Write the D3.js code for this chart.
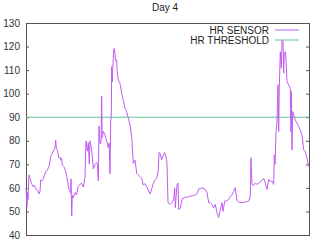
<!DOCTYPE html>
<meta charset="utf-8">
<style>
body { margin: 0; background: #fff; }
text { font-family: "Liberation Sans", Arial, sans-serif; }
</style>
<body>
<div id="chart"></div>
<script src="https://d3js.org/d3.v7.min.js"></script>
<script>
// sample position along the day and heart rate
var sampleIdx = [
  0, 0.5, 1, 1.5, 2, 3, 4, 5.5, 7, 8.5,
  10, 11.5, 13, 14, 14.7, 16, 17, 18, 19.7, 21.3,
  23, 24.7, 26.3, 28, 29, 29.7, 30.3, 31.3, 33, 34,
  34.7, 35.5, 36.3, 38, 39.7, 41.3, 43, 44, 44.7, 45,
  45.7, 46.3, 47.3, 49, 50.5, 52.3, 54, 55.5, 57.3, 59,
  60, 61.3, 62.3, 63.3, 64, 65.7, 67.3, 69, 70.7, 71.5,
  72.3, 73, 74, 75, 75.7, 76.2, 77.3, 79, 80.7, 82.3,
  83.2, 84, 84.7, 85.3, 85.7, 86.3, 86.7, 87.7, 88.3, 89,
  89.5, 90.7, 91, 92.3, 94, 95.7, 97.3, 99, 100.7, 102.3,
  104, 105.7, 107.3, 109, 110.7, 112.3, 114, 115.7, 117.3, 119,
  120.7, 122.3, 124, 125.7, 127.3, 129, 130.7, 132.3, 133, 134,
  135.7, 137.3, 138.7, 140.7, 141, 142, 144.3, 146, 147.7, 148.7,
  149.3, 151, 152, 152.7, 154.3, 156, 159.3, 162.7, 166, 169.3,
  171, 172.7, 176, 179.3, 181, 182.7, 184.3, 186, 187.7, 189.3,
  191, 192.7, 194.3, 196, 197, 198.7, 200.7, 202.7, 204.5, 206,
  207.7, 209.3, 211, 212.7, 216, 219.3, 222.7, 224.3, 225, 226,
  227.7, 229.3, 231, 232.7, 234.3, 236, 237.7, 239.3, 241, 242.7,
  244.3, 246, 247.7, 248.3, 249, 250, 251, 252, 252.7, 253.3,
  254.3, 255.3, 256, 257, 257.7, 258.3, 259.3, 260, 261, 262.7,
  264.3, 265, 265.3, 266, 266.7, 267.7, 269.3, 271, 272.7, 274.3,
  276, 277.7, 279.3, 281, 282.7];
var heartRate = [
  60, 56, 52, 58, 55, 65.5, 64, 62, 60.5, 61,
  59.5, 59, 57.5, 58.5, 63.4, 63, 63.5, 64.8, 66.9, 67.6,
  69, 73.3, 74.7, 76.1, 77, 80.3, 77, 76, 72.7, 73,
  71.8, 72.5, 69.7, 69, 67, 63.4, 59.3, 58.7, 57.7, 63.8,
  48, 57, 55.8, 58, 57, 60.8, 61.5, 62, 60.4, 64.4,
  79.9, 75.6, 79.2, 70.1, 80, 76, 68, 70, 70.7, 69.5,
  63, 86.3, 78.6, 79, 99, 81.3, 84, 82.5, 80, 77,
  79, 66, 88.4, 90.2, 111.5, 105, 110, 118.5, 119.2, 117,
  114, 114.3, 110, 105.8, 104.4, 100.2, 97.2, 93.8, 92.4, 89.5,
  86.7, 81.7, 70.4, 71.8, 66.2, 65.5, 64.8, 64, 61.2, 61.8,
  60.5, 59.1, 57.4, 59.5, 62, 63.4, 64.1, 67.6, 75, 74.7,
  71.8, 74, 75, 71.8, 70, 53.7, 53, 53.7, 55.2, 60,
  51.6, 61.5, 62, 50.9, 51.3, 55.2, 56, 56.2, 56.6, 57,
  57.5, 59.5, 60, 59.4, 58, 53.7, 53.7, 53, 51.6, 53,
  49.5, 47.4, 50.9, 53.7, 50, 54.4, 54.6, 55, 56.5, 57,
  58.5, 60, 54.6, 54, 53.7, 54, 54.4, 56.5, 72.8, 61.5,
  61, 62, 61.5, 62, 62.5, 63.5, 64, 62, 59.4, 63.6,
  62.6, 62.9, 61.5, 74, 70, 83.9, 88.1, 103.8, 83.9, 103,
  117.8, 110.8, 122.8, 122.5, 108.7, 117.1, 117.8, 115, 105.1, 103.7,
  102.3, 83.9, 101, 76.1, 92.4, 91, 88.8, 87.5, 86, 84.5,
  82.5, 76.1, 75.5, 72.6, 69];
var threshold = 90;
var yTicks = [40, 50, 60, 70, 80, 90, 100, 110, 120, 130];
var seriesNames = ['HR SENSOR', 'HR THRESHOLD'];
var seriesColors = ['#c25cf0', '#5cc79b'];

var width = 312;
var height = 242;
var margin = { top: 23, right: 3, bottom: 7, left: 26 };
var w = width - margin.left - margin.right;
var h = height - margin.top - margin.bottom;

var data = sampleIdx.map(function (d, i) { return { t: d, hr: heartRate[i] } });

var x = d3.scaleLinear().domain([0, 283]).range([0, w]);
var y = d3.scaleLinear().domain([40, 130]).range([h, 0]);

var svg = d3.select('#chart').append('svg')
    .attr('width', width)
    .attr('height', height);

svg.append('text')
    .attr('x', 165)
    .attr('y', 11)
    .attr('text-anchor', 'middle')
    .style('font-size', '10px')
    .style('fill', '#222')
    .text('Day 4');

var g = svg.append('g')
    .attr('transform', 'translate(' + margin.left + ',' + margin.top + ')');

// left axis with inward ticks, plus mirrored ticks on right
var gy = g.append('g')
    .call(d3.axisLeft(y).tickValues(yTicks).tickSize(-3).tickPadding(6));
var gy2 = g.append('g')
    .attr('transform', 'translate(' + w + ',0)')
    .call(d3.axisRight(y).tickValues(yTicks).tickSize(-3).tickFormat(''));
[gy, gy2].forEach(function (a) {
    a.select('.domain').remove();
    a.selectAll('line').style('stroke', '#555');
    a.selectAll('text').style('font-size', '10px').style('fill', '#333')
        .style('font-family', '"Liberation Sans", Arial, sans-serif');
});

g.append('rect')
    .attr('x', 0.5).attr('y', 0.5)
    .attr('width', w).attr('height', h)
    .style('fill', 'none')
    .style('stroke', '#555')
    .style('stroke-width', 1);

g.append('line')
    .attr('x1', 0).attr('x2', w)
    .attr('y1', y(threshold)).attr('y2', y(threshold))
    .style('stroke', seriesColors[1])
    .style('stroke-width', 1);

var line = d3.line()
    .x(function (d) { return x(d.t) })
    .y(function (d) { return y(d.hr) });

g.append('path')
    .datum(data)
    .attr('d', line)
    .style('fill', 'none')
    .style('stroke', seriesColors[0])
    .style('stroke-width', 1);

// legend
var legend = svg.append('g');
seriesNames.forEach(function (name, i) {
    var ly = 30 + i * 10;
    legend.append('text')
        .attr('x', 269)
        .attr('y', ly + 3.5)
        .attr('text-anchor', 'end')
        .style('font-size', '10px')
        .style('fill', '#222')
        .text(name);
    legend.append('line')
        .attr('x1', 275).attr('x2', 299)
        .attr('y1', ly).attr('y2', ly)
        .style('stroke', seriesColors[i])
        .style('stroke-width', 1);
});
</script>
</body>
